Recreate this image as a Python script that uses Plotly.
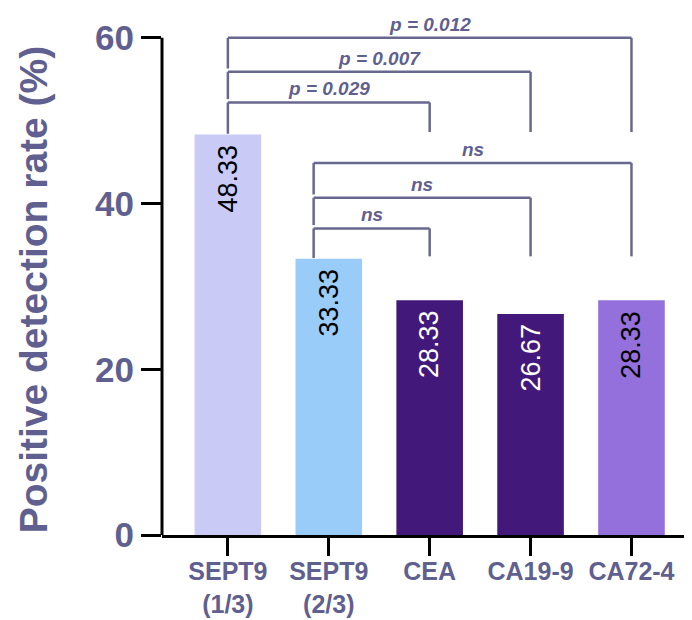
import plotly.graph_objects as go

categories = ["SEPT9<br>(1/3)", "SEPT9<br>(2/3)", "CEA", "CA19-9", "CA72-4"]
rates = [48.33, 33.33, 28.33, 26.67, 28.33]
rate_labels = ["48.33", "33.33", "28.33", "26.67", "28.33"]
bar_colors = ["#CACAF7", "#9ACCFA", "#42197A", "#42197A", "#9370DB"]
label_colors = ["black", "black", "white", "white", "black"]
y_ticks = [0, 20, 40, 60]

# comparisons: (from index, to index, p label)
comparisons = [
    (0, 2, "p = 0.029"),
    (0, 3, "p = 0.007"),
    (0, 4, "p = 0.012"),
    (1, 2, "ns"),
    (1, 3, "ns"),
    (1, 4, "ns"),
]
bracket_levels = [52.2, 55.9, 60.0, 37.0, 40.7, 44.9]

SLATE = "#5F5F90"
LINE = "#68688F"
FONT = "Arial, Liberation Sans, sans-serif"

xs = list(range(len(categories)))
fig = go.Figure()
fig.add_trace(go.Bar(
    x=xs, y=rates, width=0.66,
    marker=dict(color=bar_colors, line=dict(width=0)),
    hoverinfo="skip",
))

shapes = []
annotations = []
for i, (v, lab, col) in enumerate(zip(rates, rate_labels, label_colors)):
    annotations.append(dict(x=i, y=v, xref="x", yref="y", text=lab, textangle=-90,
                            showarrow=False, xanchor="center", yanchor="top", yshift=-8,
                            font=dict(family=FONT, size=27, color=col)))

left_shift = {0: 0.0, 1: -0.15}
for (a, b, lab), lvl in zip(comparisons, bracket_levels):
    xa = a + left_shift[a]
    xb = b
    lower = [l for (aa, bb, _), l in zip(comparisons, bracket_levels) if aa == a and l < lvl]
    left_bottom = (max(lower) + 0.4) if lower else rates[a] + 0.1
    right_bottom = rates[a] + 0.3
    shapes.append(dict(type="line", xref="x", yref="y", x0=xa, x1=xa, y0=left_bottom, y1=lvl,
                       line=dict(color=LINE, width=2.5)))
    shapes.append(dict(type="line", xref="x", yref="y", x0=xa, x1=xb, y0=lvl, y1=lvl,
                       line=dict(color=LINE, width=2.5)))
    shapes.append(dict(type="line", xref="x", yref="y", x0=xb, x1=xb, y0=right_bottom, y1=lvl,
                       line=dict(color=LINE, width=2.5)))
    annotations.append(dict(x=(xa + xb) / 2, y=lvl, xref="x", yref="y", text=f"<b><i>{lab}</i></b>",
                            showarrow=False, xanchor="center", yanchor="bottom", yshift=1,
                            font=dict(family=FONT, size=19, color=SLATE)))

# y-axis line only up to the last tick
shapes.append(dict(type="line", xref="paper", yref="y", x0=0, x1=0, y0=0, y1=60,
                   line=dict(color="black", width=3)))

annotations.append(dict(x=-0.243, y=0.471, xref="paper", yref="paper",
                        text="<b>Positive detection rate (%)</b>", textangle=-90,
                        xanchor="center", yanchor="middle",
                        showarrow=False, font=dict(family=FONT, size=39, color=SLATE)))

# page body adds an 8px offset, so the figure is sized to fit the 692x620 window
fig.update_layout(
    width=684, height=612,
    margin=dict(l=154, r=0, t=5, b=85, autoexpand=False),
    paper_bgcolor="white", plot_bgcolor="white",
    showlegend=False,
    shapes=shapes, annotations=annotations,
    font=dict(family=FONT),
    xaxis=dict(
        range=[-0.653, 4.6], tickvals=xs, ticktext=[f"<b>{c}</b>" for c in categories],
        showline=True, linecolor="black", linewidth=3,
        ticks="outside", ticklen=18, tickwidth=3, tickcolor="black",
        tickfont=dict(family=FONT, size=25, color=SLATE), ticklabelstandoff=-6,
        showgrid=False, zeroline=False, fixedrange=True, automargin=False,
    ),
    yaxis=dict(
        range=[0, 63], tickvals=y_ticks, ticktext=[f"<b>{t}</b>" for t in y_ticks],
        showline=False, ticks="outside", ticklen=20, tickwidth=3, tickcolor="black",
        tickfont=dict(family=FONT, size=35, color=SLATE),
        showgrid=False, zeroline=False, fixedrange=True, automargin=False,
    ),
)

fig.write_html("out.html")
